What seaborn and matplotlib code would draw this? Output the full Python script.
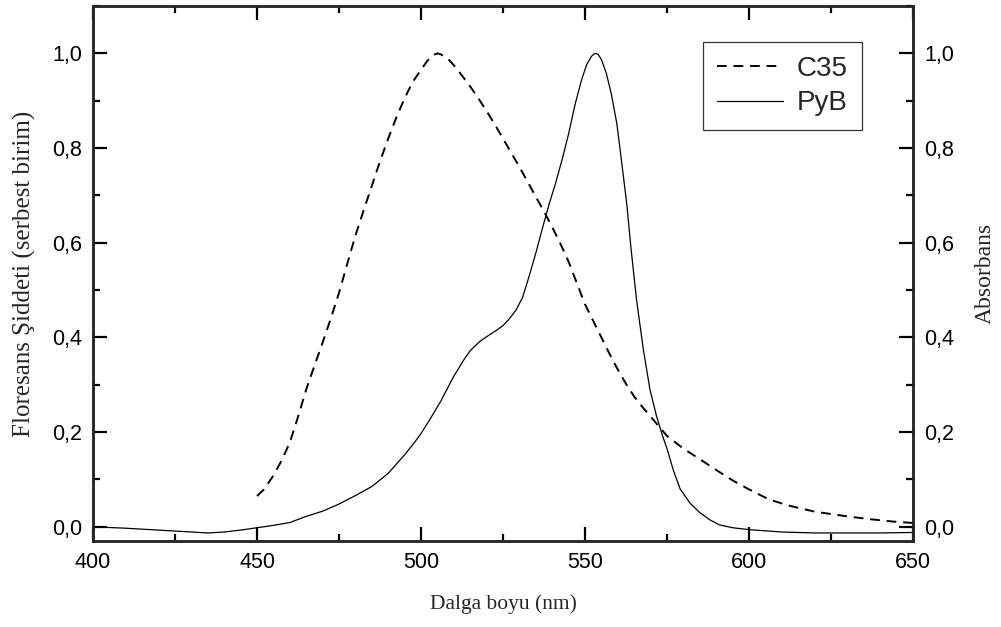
import matplotlib
matplotlib.use("Agg")
import matplotlib.pyplot as plt
from matplotlib.ticker import MultipleLocator, FuncFormatter
import seaborn as sns
import pandas as pd

# C35 fluorescence emission (normalised)
c35_nm = [450, 452, 455, 457.5, 460, 462.5, 465, 467.5, 470, 472.5, 475, 477.5,
          480, 482.5, 485, 487.5, 490, 492.5, 495, 497.5, 500, 502, 504, 505,
          506, 508, 510, 512.5, 515, 517.5, 520, 522.5, 525, 527.5, 530, 532.5,
          535, 537.5, 540, 542.5, 545, 547.5, 550, 552.5, 555, 557.5, 560, 562.5,
          565, 567.5, 570, 572.5, 575, 580, 585, 590, 595, 600, 606, 612, 620,
          630, 637, 644, 650]
c35_val = [0.065, 0.078, 0.108, 0.14, 0.178, 0.232, 0.29, 0.34, 0.389, 0.44,
           0.494, 0.555, 0.615, 0.668, 0.72, 0.772, 0.82, 0.865, 0.905, 0.94,
           0.965, 0.985, 0.997, 1.0, 0.998, 0.99, 0.975, 0.953, 0.93, 0.905,
           0.878, 0.85, 0.82, 0.79, 0.76, 0.729, 0.697, 0.666, 0.633, 0.598,
           0.56, 0.515, 0.47, 0.435, 0.40, 0.365, 0.332, 0.302, 0.275, 0.253,
           0.233, 0.212, 0.192, 0.165, 0.143, 0.12, 0.098, 0.079, 0.058, 0.045,
           0.032, 0.022, 0.016, 0.011, 0.008]

# PyB absorbance (normalised)
pyb_nm = [400, 410, 420, 430, 435, 440, 445, 450, 455, 460, 465, 470, 475, 480,
          485, 490, 495, 498, 500, 503, 506, 510, 513, 515, 518, 521, 523, 525,
          527, 529, 531, 533, 535, 537, 539, 541, 543, 545, 547, 549, 550.5,
          552, 553, 554, 555, 556.5, 558, 559.7, 561, 562.7, 564, 565.7, 567.8,
          569.8, 571.8, 573.5, 575, 577, 579, 582, 585, 588, 591, 595, 600, 610,
          620, 630, 640, 650]
pyb_val = [0.0, -0.003, -0.007, -0.011, -0.013, -0.011, -0.007, -0.002, 0.003,
           0.009, 0.022, 0.033, 0.048, 0.066, 0.085, 0.113, 0.152, 0.178, 0.197,
           0.23, 0.265, 0.318, 0.352, 0.372, 0.392, 0.406, 0.415, 0.425, 0.44,
           0.458, 0.485, 0.53, 0.578, 0.63, 0.68, 0.725, 0.775, 0.83, 0.893,
           0.945, 0.976, 0.994, 1.0, 0.998, 0.987, 0.958, 0.915, 0.852, 0.78,
           0.684, 0.59, 0.48, 0.374, 0.29, 0.234, 0.195, 0.165, 0.118, 0.08,
           0.05, 0.03, 0.015, 0.004, -0.002, -0.006, -0.011, -0.013, -0.013,
           -0.013, -0.012]

series_names = ["C35", "PyB"]
x_ticks = [400, 450, 500, 550, 600, 650]
y_ticks = [0.0, 0.2, 0.4, 0.6, 0.8, 1.0]

df_c35 = pd.DataFrame({"nm": c35_nm, "val": c35_val})
df_pyb = pd.DataFrame({"nm": pyb_nm, "val": pyb_val})

sns.set_style("ticks")
plt.rcParams["font.family"] = ["Liberation Sans", "DejaVu Sans"]
plt.rcParams["axes.linewidth"] = 1.8

fig = plt.figure(figsize=(10.01, 6.27), dpi=100)
ax = fig.add_axes([93 / 1001, 1 - 541 / 627, (913 - 93) / 1001, (541 - 6) / 627])

sns.lineplot(data=df_c35, x="nm", y="val", ax=ax, color="black", lw=1.4,
             label=series_names[0], sort=False)
sns.lineplot(data=df_pyb, x="nm", y="val", ax=ax, color="black", lw=0.9,
             label=series_names[1], sort=False)
ax.lines[0].set_dashes((5, 3.5))

ax.set_xlim(400, 650)
ax.set_ylim(-0.03, 1.10)

comma = FuncFormatter(lambda v, p: f"{v:.1f}".replace(".", ","))

ax.set_xticks(x_ticks)
ax.set_yticks(y_ticks)
ax.yaxis.set_major_formatter(comma)
ax.xaxis.set_minor_locator(MultipleLocator(25))
ax.yaxis.set_minor_locator(MultipleLocator(0.1))
ax.tick_params(which="both", direction="in", top=True, labeltop=False,
               right=False, width=1.6, labelsize=15.5, colors="black")
ax.tick_params(which="major", length=10, pad=8)
ax.tick_params(which="minor", length=5)

serif = ["Liberation Serif", "DejaVu Serif"]
ax.set_xlabel("Dalga boyu (nm)", fontsize=15.5, family=serif, labelpad=15)
ax.set_ylabel("Floresans Şiddeti (serbest birim)", fontsize=18, family=serif,
              labelpad=11)

ax2 = ax.twinx()
ax2.set_ylim(ax.get_ylim())
ax2.set_yticks(y_ticks)
ax2.yaxis.set_major_formatter(comma)
ax2.yaxis.set_minor_locator(MultipleLocator(0.1))
ax2.tick_params(which="both", direction="in", width=1.6, labelsize=15.5, colors="black")
ax2.tick_params(which="major", length=10, pad=8)
ax2.tick_params(which="minor", length=5)
ax2.set_ylabel("Absorbans", fontsize=17, family=serif, labelpad=15)
for s in ax2.spines.values():
    s.set_linewidth(1.8)

leg = ax.legend(loc="upper right", bbox_to_anchor=(862 / 1001, 1 - 42 / 627),
                bbox_transform=fig.transFigure, fontsize=20, frameon=True,
                fancybox=False, edgecolor="black", handlelength=2.4,
                labelspacing=0.3, borderpad=0.5, handletextpad=0.5,
                borderaxespad=0)
leg.get_frame().set_linewidth(0.9)

fig.savefig("out.png", dpi=100)
